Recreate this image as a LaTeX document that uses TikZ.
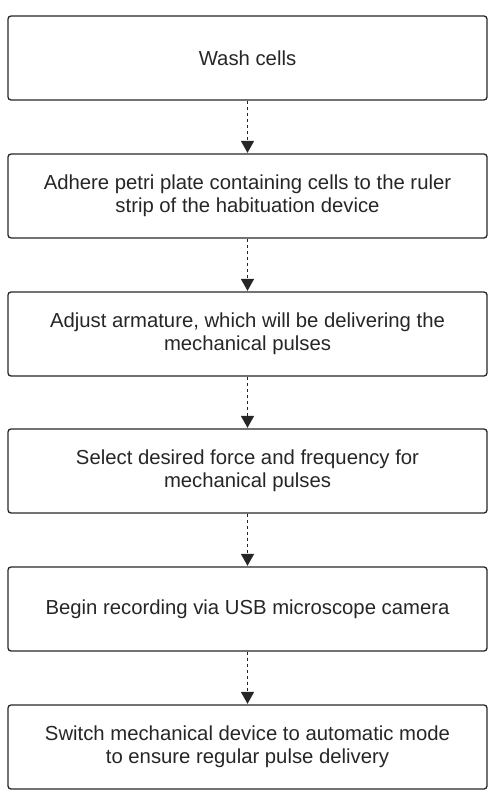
\documentclass[tikz,border=0pt]{standalone}
\usepackage{fontspec}
\setmainfont{Liberation Sans}
\usetikzlibrary{arrows.meta}
\begin{document}
\begin{tikzpicture}[x=1pt,y=-1pt,
  stepbox/.style={draw=black!85, line width=1.3pt, rounded corners=3pt, minimum width=479pt, minimum height=84pt, align=center, font=\fontsize{20.3}{23}\selectfont, text=black!85, inner sep=0pt},
  flow/.style={draw=black!85, line width=1.6pt, dash pattern=on 3.5pt off 2.5pt, -{Triangle[width=13pt,length=12pt]}, shorten >=0.5pt}]
\useasboundingbox (0,0) rectangle (495,808);
\node[stepbox] (s1) at (247.5,58) {Wash cells};
\node[stepbox] (s2) at (247.5,196) {Adhere petri plate containing cells to the ruler\\strip of the habituation device};
\node[stepbox] (s3) at (247.5,334) {Adjust armature, which will be delivering the\\mechanical pulses};
\node[stepbox] (s4) at (247.5,471) {Select desired force and frequency for\\mechanical pulses};
\node[stepbox] (s5) at (247.5,609) {Begin recording via USB microscope camera};
\node[stepbox] (s6) at (247.5,747) {Switch mechanical device to automatic mode\\to ensure regular pulse delivery};
\foreach \a/\b in {s1/s2,s2/s3,s3/s4,s4/s5,s5/s6}
  \draw[flow] (\a.south) -- (\b.north);
\end{tikzpicture}
\end{document}
